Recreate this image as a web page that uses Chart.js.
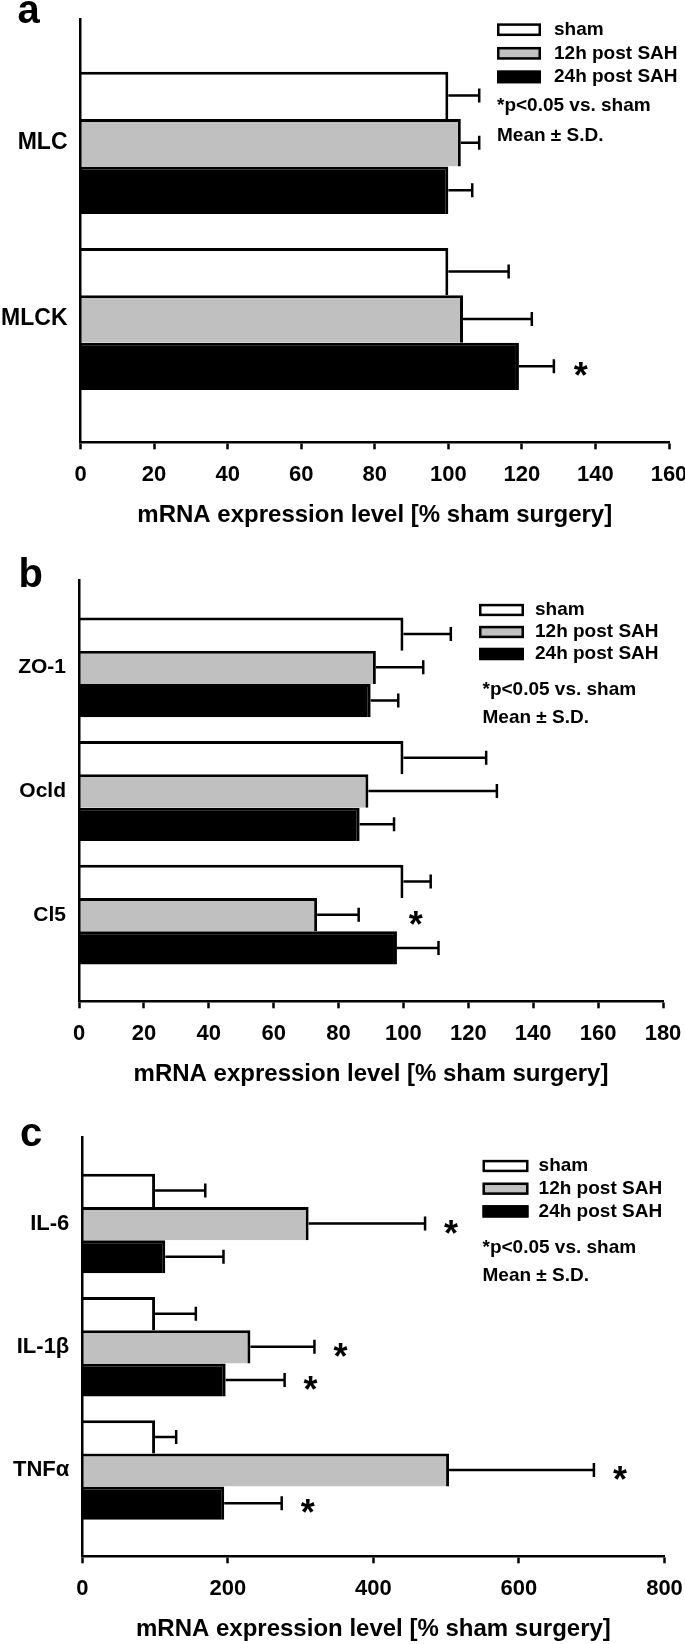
<!DOCTYPE html>
<html lang="en">
<head>
<meta charset="UTF-8">
<title>mRNA expression after SAH</title>
<script src="https://cdn.jsdelivr.net/npm/chart.js"></script>
<style>
  body { margin: 0; background: #fff; }
  canvas { position: absolute; left: 0; }
</style>
</head>
<body>
<canvas id="chartA" width="685" height="540" style="top:0px"></canvas>
<canvas id="chartB" width="685" height="550" style="top:540px"></canvas>
<canvas id="chartC" width="685" height="554" style="top:1090px"></canvas>

<script>
// ---- data ----
const groupLabels = ['sham', '12h post SAH', '24h post SAH'];
const axisTitle = 'mRNA expression level [% sham surgery]';

// a: MLC / MLCK
const genesA = ['MLC', 'MLCK'];
const shamA = [100, 100];
const h12A = [103.4, 104];
const h24A = [100, 119.2];
const shamSdA = [8.4, 16.4];
const h12SdA = [5, 18.7];
const h24SdA = [6.5, 9.5];
const h12SigA = [false, false];
const h24SigA = [false, true];

// b: tight junctions
const genesB = ['ZO-1', 'Ocld', 'Cl5'];
const shamB = [100, 100, 100];
const h12B = [91.5, 89.2, 73.4];
const h24B = [89.9, 86.5, 98];
const shamSdB = [14.6, 25.5, 8.4];
const h12SdB = [14.6, 39.6, 12.8];
const h24SdB = [8.5, 10.6, 12.8];
const h12SigB = [false, false, true];
const h24SigB = [false, false, false];

// c: cytokines
const genesC = ['IL-6', 'IL-1β', 'TNFα'];
const shamC = [100, 100, 100];
const h12C = [311, 231, 504];
const h24C = [114, 197, 195];
const shamSdC = [69, 56, 29];
const h12SdC = [160, 88, 199];
const h24SdC = [80, 81, 79];
const h12SigC = [true, true, true];
const h24SigC = [false, true, true];

// ---- drawing ----
const FONT = '"Liberation Sans", Arial, Helvetica, sans-serif';
const fills = ['#ffffff', '#c0c0c0', '#000000'];
Chart.defaults.font.family = FONT;
Chart.defaults.color = '#000';

function makePanel(id, p) {
    const series = [p.sham, p.h12, p.h24];
    const sds = [p.shamSd, p.h12Sd, p.h24Sd];
    const sigs = [p.genes.map(() => false), p.h12Sig, p.h24Sig];

    // error bars, stars, legend box and panel letter
    const extras = {
        id: 'extras',
        afterDatasetsDraw(chart) {
            const ctx = chart.ctx;
            const xs = chart.scales.x;
            ctx.save();
            ctx.strokeStyle = '#000';
            ctx.fillStyle = '#000';
            ctx.lineWidth = 2.5;
            series.forEach((vals, i) => {
                chart.getDatasetMeta(i).data.forEach((bar, j) => {
                    const x1 = xs.getPixelForValue(vals[j] + sds[i][j]);
                    ctx.beginPath();
                    ctx.moveTo(bar.x, bar.y);
                    ctx.lineTo(x1, bar.y);
                    ctx.moveTo(x1, bar.y - 7);
                    ctx.lineTo(x1, bar.y + 7);
                    ctx.stroke();
                    if (sigs[i][j]) {
                        ctx.font = 'bold 36px ' + FONT;
                        ctx.textAlign = 'center';
                        ctx.textBaseline = 'alphabetic';
                        ctx.fillText('*', x1 + p.starGap, bar.y + 22);
                    }
                });
            });

            // legend
            const lg = p.legend;
            ctx.lineWidth = 2.5;
            ctx.font = 'bold 19px ' + FONT;
            ctx.textAlign = 'left';
            ctx.textBaseline = 'middle';
            chart.data.datasets.forEach((ds, i) => {
                const cy = lg.y + i * lg.gap;
                ctx.fillStyle = ds.backgroundColor;
                ctx.fillRect(lg.x, cy - lg.h / 2, lg.w, lg.h);
                ctx.strokeRect(lg.x + 1.25, cy - lg.h / 2 + 1.25, lg.w - 2.5, lg.h - 2.5);
                ctx.fillStyle = '#000';
                ctx.fillText(ds.label, lg.textX, cy);
            });
            ctx.fillText('*p<0.05 vs. sham', lg.noteX, lg.noteY[0]);
            ctx.fillText('Mean ± S.D.', lg.noteX, lg.noteY[1]);

            ctx.font = 'bold 40px ' + FONT;
            ctx.textBaseline = 'alphabetic';
            ctx.fillText(p.letter, p.letterX, p.letterY);
            ctx.restore();
        }
    };

    const datasets = series.map((vals, i) => ({
        label: groupLabels[i],
        data: vals.map((v, j) => ({ x: v, y: j + 1 })),
        backgroundColor: fills[i],
        borderColor: '#000',
        borderWidth: { top: 3, right: 3, bottom: 0, left: 0 },
        categoryPercentage: 0.807,
        barPercentage: 1
    }));

    new Chart(document.getElementById(id), {
        type: 'bar',
        data: { datasets: datasets },
        options: {
            indexAxis: 'y',
            responsive: false,
            animation: false,
            devicePixelRatio: 1,
            layout: { padding: { top: p.top, right: p.right, bottom: p.bottom, left: 0 } },
            scales: {
                x: {
                    type: 'linear',
                    min: 0,
                    max: p.xMax,
                    ticks: { stepSize: p.xStep, padding: 12, maxRotation: 0, color: '#000',
                             font: { size: 22, weight: 'bold', lineHeight: 1.2 } },
                    grid: { drawOnChartArea: false, drawTicks: true, tickLength: 7, tickWidth: 2.5, tickColor: '#000' },
                    border: { display: true, color: '#000', width: 2.5 },
                    title: { display: true, text: axisTitle, color: '#000',
                             font: { size: 24, weight: 'bold', lineHeight: 1.2 },
                             padding: { top: 1.5, bottom: 0 } },
                    afterFit(s) { s.paddingLeft = 0; s.paddingRight = 0; }
                },
                y: {
                    type: 'linear',
                    reverse: true,
                    offset: false,
                    min: 0.3,
                    max: p.genes.length + 0.7,
                    afterBuildTicks(s) { s.ticks = p.genes.map((g, i) => ({ value: i + 1 })); },
                    ticks: { autoSkip: false, padding: 13, color: '#000',
                             callback: (v) => p.genes[v - 1],
                             font: { size: p.labelSize, weight: 'bold' } },
                    grid: { drawOnChartArea: false, drawTicks: false, offset: false },
                    border: { display: true, color: '#000', width: 2.5, z: 1 },
                    afterFit(s) { s.width = p.left; s.paddingTop = 0; s.paddingBottom = 0; }
                }
            },
            plugins: { legend: { display: false }, tooltip: { enabled: false } }
        },
        plugins: [extras]
    });
}

makePanel('chartA', {
    genes: genesA, sham: shamA, h12: h12A, h24: h24A,
    shamSd: shamSdA, h12Sd: h12SdA, h24Sd: h24SdA, h12Sig: h12SigA, h24Sig: h24SigA,
    xMax: 160, xStep: 20, labelSize: 23,
    top: 19.5, right: 16, bottom: 10, left: 80.5, starGap: 27,
    letter: 'a', letterX: 17.5, letterY: 23,
    legend: { x: 497, y: 29.7, gap: 23.6, w: 44, h: 12.7, textX: 554, noteX: 497, noteY: [106, 135.7] }
});

makePanel('chartB', {
    genes: genesB, sham: shamB, h12: h12B, h24: h24B,
    shamSd: shamSdB, h12Sd: h12SdB, h24Sd: h24SdB, h12Sig: h12SigB, h24Sig: h24SigB,
    xMax: 180, xStep: 20, labelSize: 21,
    top: 40.7, right: 22, bottom: 1, left: 79, starGap: 57,
    letter: 'b', letterX: 18.5, letterY: 46.7,
    legend: { x: 479, y: 70, gap: 22, w: 45, h: 12.3, textX: 535, noteX: 482.5, noteY: [150, 177.3] }
});

makePanel('chartC', {
    genes: genesC, sham: shamC, h12: h12C, h24: h24C,
    shamSd: shamSdC, h12Sd: h12SdC, h24Sd: h24SdC, h12Sig: h12SigC, h24Sig: h24SigC,
    xMax: 800, xStep: 200, labelSize: 22,
    top: 47.3, right: 20.5, bottom: 0, left: 82.3, starGap: 26,
    letter: 'c', letterX: 20, letterY: 56,
    legend: { x: 482.5, y: 76, gap: 22.7, w: 46, h: 12.3, textX: 538.6, noteX: 482.5, noteY: [157.7, 185.5] }
});
</script>
</body>
</html>
